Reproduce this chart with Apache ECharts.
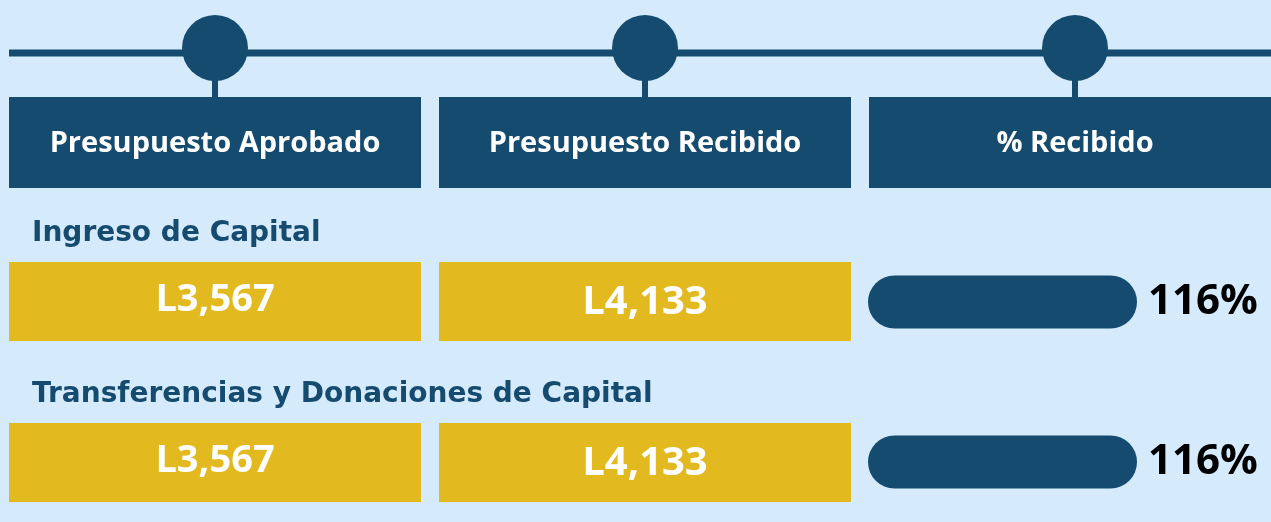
<!DOCTYPE html>
<html>
<head>
<meta charset="utf-8">
<script src="https://cdn.jsdelivr.net/npm/echarts@6/dist/echarts.min.js"></script>
<style>
html, body { margin: 0; padding: 0; background: #d5eafb; }
#main { width: 1271px; height: 522px; }
</style>
</head>
<body>
<div id="main"></div>
<script>
// datos
var columnas = ["Presupuesto Aprobado", "Presupuesto Recibido", "% Recibido"];
var rubros = ["Ingreso de Capital", "Transferencias y Donaciones de Capital"];
var aprobado = [3567, 3567];
var recibido = [4133, 4133];
var porcentaje = [116, 116];

var navy = "#154b6f";
var gold = "#e2b91e";

var celdas = [];
rubros.forEach(function (r, i) {
  celdas.push([0, i, aprobado[i]]);
  celdas.push([1, i, recibido[i]]);
});

function lempiras(v) {
  return "L" + echarts.format.addCommas(v);
}

var myChart = echarts.init(document.getElementById("main"));
myChart.setOption({
  backgroundColor: "#d5eafb",
  animation: false,
  grid: [
    { left: 0, top: 97, width: 1290, height: 91, outerBoundsMode: "none" },  // encabezado
    { left: 0, top: 220, width: 1290, height: 322, outerBoundsMode: "none" }, // tabla
    { left: 868, top: 222, width: 269, height: 320, outerBoundsMode: "none" } // barras %
  ],
  xAxis: [
    { gridIndex: 0, type: "category", data: columnas, show: false },
    { gridIndex: 1, type: "category", data: columnas, show: false },
    { gridIndex: 2, type: "value", min: 0, max: 116, show: false }
  ],
  yAxis: [
    { gridIndex: 0, type: "category", data: [""], show: false },
    { gridIndex: 1, type: "category", data: rubros, inverse: true, show: false },
    { gridIndex: 2, type: "category", data: rubros, inverse: true, show: false }
  ],
  graphic: [
    {
      type: "line",
      z: 0,
      shape: { x1: 9, y1: 53, x2: 1271, y2: 53 },
      style: { stroke: navy, lineWidth: 7 }
    }
  ],
  series: [
    {
      // encabezados con circulo
      type: "custom",
      xAxisIndex: 0,
      yAxisIndex: 0,
      z: 5,
      data: columnas.map(function (c, i) { return [i, 0]; }),
      renderItem: function (params, api) {
        var c = api.coord([api.value(0), 0]);
        var band = api.size([1, 0])[0];
        var cs = params.coordSys;
        var w = band - 18;
        return {
          type: "group",
          children: [
            { type: "rect", shape: { x: c[0] - w / 2, y: cs.y, width: w, height: cs.height }, style: { fill: navy } },
            { type: "rect", shape: { x: c[0] - 3, y: cs.y - 20, width: 6, height: 20 }, style: { fill: navy } },
            { type: "circle", shape: { cx: c[0], cy: cs.y - 49, r: 33 }, style: { fill: navy } },
            {
              type: "text",
              x: c[0],
              y: cs.y + cs.height / 2 + 1,
              style: {
                text: columnas[params.dataIndex],
                fill: "#ffffff",
                font: 'bold 29px "Open Sans"',
                align: "center",
                verticalAlign: "middle",
                textAlign: "center",
                textVerticalAlign: "middle"
              }
            }
          ]
        };
      }
    },
    {
      // nombre del rubro
      type: "custom",
      xAxisIndex: 1,
      yAxisIndex: 1,
      data: rubros.map(function (r, i) { return [0, i]; }),
      renderItem: function (params, api) {
        var c = api.coord([0, api.value(1)]);
        return {
          type: "text",
          x: 32,
          y: c[1] - 67,
          style: {
            text: rubros[params.dataIndex],
            fill: navy,
            font: 'bold 28px "DejaVu Sans"',
            align: "left",
            verticalAlign: "middle",
            textAlign: "left",
            textVerticalAlign: "middle"
          }
        };
      }
    },
    {
      // celdas amarillas
      type: "custom",
      xAxisIndex: 1,
      yAxisIndex: 1,
      data: celdas,
      renderItem: function (params, api) {
        var col = api.value(0);
        var c = api.coord([col, api.value(1)]);
        var size = api.size([1, 1]);
        var w = size[0] - 18;
        var h = 79;
        var fs = col === 0 ? 38 : 40;
        return {
          type: "group",
          children: [
            { type: "rect", shape: { x: c[0] - w / 2, y: c[1] - h / 2 + 1, width: w, height: h }, style: { fill: gold } },
            {
              type: "text",
              x: c[0],
              y: c[1] + (col === 0 ? 0 : 2),
              style: {
                text: lempiras(api.value(2)),
                fill: "#ffffff",
                font: "bold " + fs + 'px "Open Sans"',
                align: "center",
                verticalAlign: "middle",
                textAlign: "center",
                textVerticalAlign: "middle"
              }
            }
          ]
        };
      }
    },
    {
      name: "% Recibido",
      type: "bar",
      xAxisIndex: 2,
      yAxisIndex: 2,
      data: porcentaje,
      barWidth: 53,
      itemStyle: { color: navy, borderRadius: 26.5 },
      label: {
        show: true,
        position: "right",
        distance: 11,
        formatter: "{c}%",
        color: "#000000",
        fontFamily: "Open Sans",
        fontWeight: "bold",
        fontSize: 42
      }
    }
  ]
});
</script>
</body>
</html>
